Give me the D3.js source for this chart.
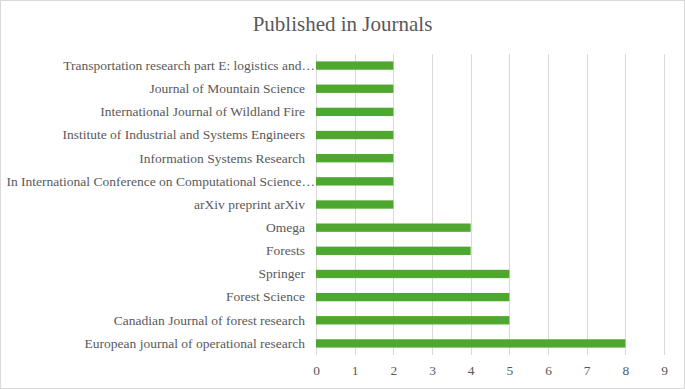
<!DOCTYPE html>
<html>
<head>
<meta charset="utf-8">
<script src="https://cdn.jsdelivr.net/npm/d3@7"></script>
<style>
  body { margin: 0; background: #fff; }
  text { font-family: "Liberation Serif", "Times New Roman", serif; fill: #595959; }
</style>
</head>
<body>
<div id="chart"></div>
<script>
// Chart data (top to bottom)
const journals = [
  "Transportation research part E: logistics and\u2026",
  "Journal of Mountain Science",
  "International Journal of Wildland Fire",
  "Institute of Industrial and Systems Engineers",
  "Information Systems Research",
  "In International Conference on Computational Science\u2026",
  "arXiv preprint arXiv",
  "Omega",
  "Forests",
  "Springer ",
  "Forest Science",
  "Canadian Journal of forest research",
  "European journal of operational research"
];
const counts = [2, 2, 2, 2, 2, 2, 2, 4, 4, 5, 5, 5, 8];
const xTicks = [0, 1, 2, 3, 4, 5, 6, 7, 8, 9];

const width = 685;
const height = 389;
const margin = { top: 54, right: 21, bottom: 34, left: 316 };

const svg = d3.select("#chart")
  .append("svg")
  .attr("width", width)
  .attr("height", height);

// outer border
svg.append("rect")
  .attr("x", 0.5).attr("y", 0.5)
  .attr("width", width - 1).attr("height", height - 1)
  .attr("fill", "#fff")
  .attr("stroke", "#d9d9d9");

const x = d3.scaleLinear()
  .domain([0, 9])
  .range([margin.left, width - margin.right]);

const y = d3.scaleBand()
  .domain(journals)
  .range([margin.top, height - margin.bottom])
  .paddingInner(0.64)
  .paddingOuter(0.32);

// gridlines
svg.append("g")
  .selectAll("line")
  .data(xTicks)
  .join("line")
  .attr("x1", d => Math.round(x(d)) + 0.5)
  .attr("x2", d => Math.round(x(d)) + 0.5)
  .attr("y1", margin.top)
  .attr("y2", height - margin.bottom)
  .attr("stroke", "#d9d9d9");

// bars
svg.append("g")
  .selectAll("rect")
  .data(journals)
  .join("rect")
  .attr("x", x(0))
  .attr("y", d => y(d))
  .attr("width", (d, i) => x(counts[i]) - x(0))
  .attr("height", y.bandwidth())
  .attr("fill", "#4ea72e");

// x axis labels
const xAxis = svg.append("g")
  .attr("transform", `translate(0, ${height - margin.bottom})`)
  .call(d3.axisBottom(x).tickValues(xTicks).tickSize(0).tickPadding(10.5));
xAxis.select(".domain").remove();
xAxis.selectAll("text")
  .attr("font-size", 13.5)
  .attr("fill", "#595959");

// y axis labels
const yAxis = svg.append("g")
  .attr("transform", `translate(${margin.left}, 0)`)
  .call(d3.axisLeft(y).tickSize(0).tickPadding(11));
yAxis.select(".domain").remove();
yAxis.selectAll("text")
  .attr("font-size", 13.5)
  .attr("fill", "#595959");
// truncated labels run up to the axis
yAxis.selectAll("text")
  .filter(d => d.endsWith("\u2026"))
  .attr("x", -1);

// title
svg.append("text")
  .attr("x", width / 2)
  .attr("y", 31)
  .attr("text-anchor", "middle")
  .attr("font-size", 21)
  .text("Published in Journals");
</script>
</body>
</html>
